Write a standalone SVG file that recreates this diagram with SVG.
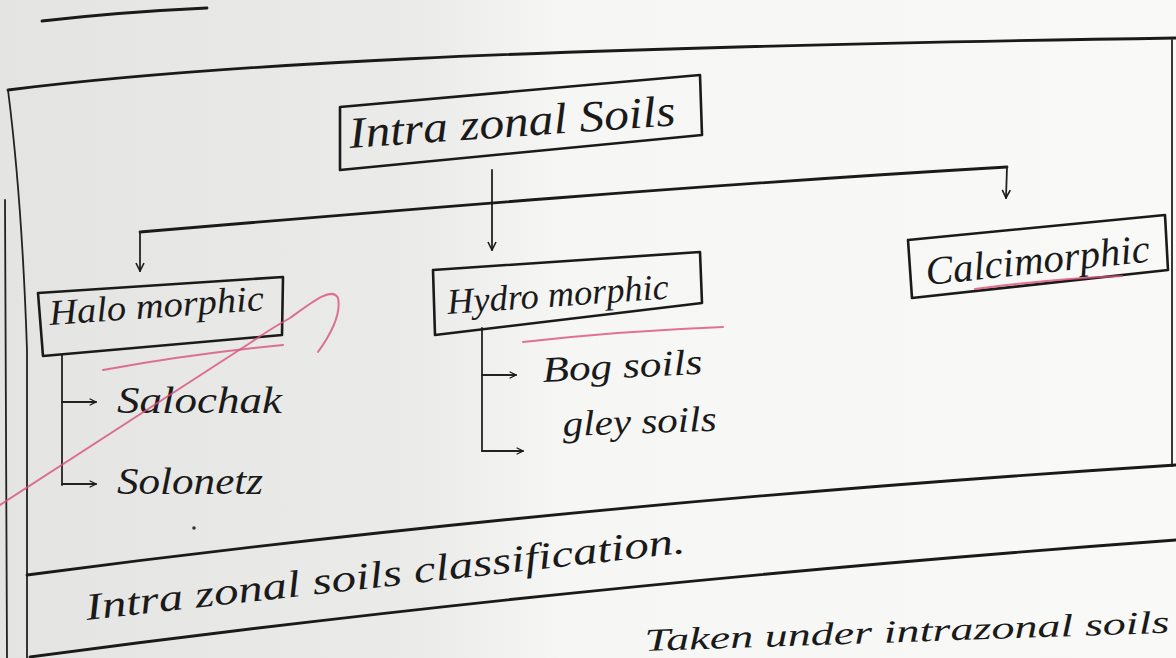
<svg xmlns="http://www.w3.org/2000/svg" width="1176" height="658" viewBox="0 0 1176 658">
<defs>
<linearGradient id="paper" x1="0" y1="0" x2="1" y2="0">
<stop offset="0" stop-color="#e4e4e2"/>
<stop offset="0.36" stop-color="#ebebe9"/>
<stop offset="0.48" stop-color="#f6f6f4"/>
<stop offset="1" stop-color="#f9f9f7"/>
</linearGradient>
<marker id="arr" viewBox="0 0 10 10" refX="9" refY="5" markerWidth="10" markerHeight="10" orient="auto" markerUnits="userSpaceOnUse">
<path d="M1,1 L9,5 L1,9" fill="none" stroke="#1a1a1a" stroke-width="1.6"/>
</marker>
<marker id="arrS" viewBox="0 0 10 10" refX="9" refY="5" markerWidth="8" markerHeight="8" orient="auto" markerUnits="userSpaceOnUse">
<path d="M1,1 L9,5 L1,9" fill="none" stroke="#1a1a1a" stroke-width="1.6"/>
</marker>
</defs>
<style>
.ink{fill:none;stroke:#1a1a1a;stroke-width:2.8;stroke-linecap:round;stroke-linejoin:round}
.thin{fill:none;stroke:#222;stroke-width:1.8;stroke-linecap:round}
.box{fill:none;stroke:#1a1a1a;stroke-width:2.6;stroke-linejoin:round}
.red{fill:none;stroke:#d9507a;stroke-width:2;stroke-linecap:round;opacity:0.8}
.t{font-family:"Liberation Serif","DejaVu Serif",serif;font-style:italic;fill:#1a1a1a}
</style>
<rect x="0" y="0" width="1176" height="658" fill="url(#paper)"/>
<!-- page frame -->
<g id="frame">
<path class="ink" d="M42,21 Q120,12 207,8"/>
<path class="ink" d="M8,90 C200,66 500,48 1176,38"/>
<path class="thin" d="M8,90 Q22,200 27,350 L27,658"/>
<path class="thin" d="M5,200 L7,658"/>
<path class="thin" d="M1172,40 L1172,466"/>
<path class="ink" d="M27,575 Q567,504 1176,465"/>
<path class="ink" d="M30,657 Q567,585 1176,540"/>
</g>
<!-- connectors -->
<g id="connectors">
<path class="thin" d="M492,170 L492,250" marker-end="url(#arr)"/>
<path class="ink" d="M140,232 C400,210 700,185 1007,167"/>
<path class="thin" d="M140,232 L140,271" marker-end="url(#arr)"/>
<path class="thin" d="M1007,167 L1006,198" marker-end="url(#arr)"/>
<path class="thin" d="M62,355 L62,485"/>
<path class="thin" d="M62,402 L96,402" marker-end="url(#arrS)"/>
<path class="thin" d="M62,484 L96,484" marker-end="url(#arrS)"/>
<path class="thin" d="M482,328 L482,451"/>
<path class="thin" d="M482,375 L516,375" marker-end="url(#arrS)"/>
<path class="thin" d="M482,451 L523,451" marker-end="url(#arrS)"/>
</g>
<!-- nodes -->
<g id="root">
<polygon class="box" points="340,107 700,75 702,135 340,170"/>
<text class="t" x="350" y="148" font-size="44" textLength="327" lengthAdjust="spacingAndGlyphs" transform="rotate(-4 350 148)">Intra zonal Soils</text>
</g>
<g id="halomorphic">
<polygon class="box" points="38,293 283,277 282,335 43,356"/>
<text class="t" x="50" y="325" font-size="36" textLength="215" lengthAdjust="spacingAndGlyphs" transform="rotate(-4 50 325)">Halo morphic</text>
</g>
<g id="hydromorphic">
<polygon class="box" points="433,270 700,252 702,303 435,335"/>
<text class="t" x="448" y="314" font-size="36" textLength="222" lengthAdjust="spacingAndGlyphs" transform="rotate(-4 448 314)">Hydro morphic</text>
</g>
<g id="calcimorphic">
<polygon class="box" points="908,240 1165,215 1168,270 912,298"/>
<text class="t" x="927" y="285" font-size="40" textLength="225" lengthAdjust="spacingAndGlyphs" transform="rotate(-6 927 285)">Calcimorphic</text>
</g>
<g id="salochak">
<text class="t" x="117" y="413" font-size="38" textLength="165" lengthAdjust="spacingAndGlyphs">Salochak</text>
</g>
<g id="solonetz">
<text class="t" x="117" y="494" font-size="38" textLength="146" lengthAdjust="spacingAndGlyphs">Solonetz</text>
</g>
<g id="bog">
<text class="t" x="543" y="382" font-size="36" textLength="160" lengthAdjust="spacingAndGlyphs" transform="rotate(-3 543 382)">Bog soils</text>
</g>
<g id="gley">
<text class="t" x="563" y="436" font-size="36" textLength="154" lengthAdjust="spacingAndGlyphs" transform="rotate(-2 563 436)">gley soils</text>
</g>
<g id="caption">
<circle cx="194" cy="528" r="1.8" fill="#333"/>
<text class="t" x="87" y="620" font-size="38" textLength="603" lengthAdjust="spacingAndGlyphs" transform="rotate(-6.4 87 620)">Intra zonal soils classification.</text>
</g>
<g id="nextline">
<text class="t" x="645" y="651" font-size="32" textLength="525" lengthAdjust="spacingAndGlyphs" transform="rotate(-2 645 651)">Taken under  intrazonal soils</text>
</g>
<!-- red marks -->
<g id="annotations">
<path class="red" d="M103,370 Q190,354 283,345"/>
<path class="red" d="M0,505 L250,343 Q272,328 290,318 C312,302 332,286 338,298 C342,316 328,338 318,352"/>
<path class="red" d="M523,342 Q620,331 723,327"/>
<path class="red" d="M975,289 Q1050,279 1122,276"/>
</g>
</svg>
